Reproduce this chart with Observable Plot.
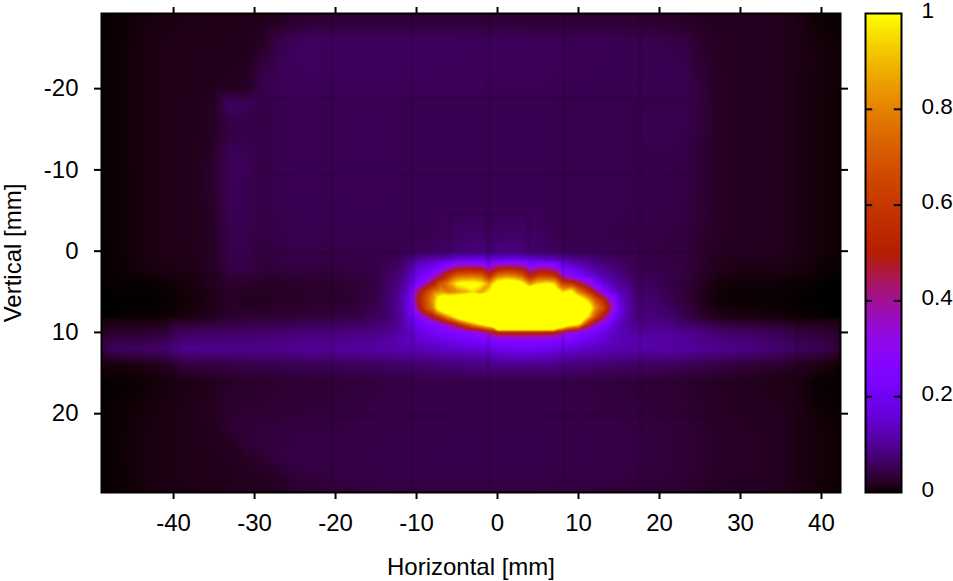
<!DOCTYPE html>
<html><head><meta charset="utf-8">
<script src="https://cdn.jsdelivr.net/npm/d3@7"></script>
<script src="https://cdn.jsdelivr.net/npm/@observablehq/plot@0.6"></script>
<style>
html,body{margin:0;padding:0;background:#fff}
#wrap{position:relative;width:953px;height:581px;overflow:hidden}
#wrap>svg{position:absolute;left:0;top:0;background:transparent}
</style></head><body><div id="wrap"></div>
<script>
// Intensity, in thousandths of full scale.
const colX = [-49,-47,-45,-43,-41,-39,-37,-35,-33,-31,-29,-27,-25,-23,-21,-19,-17,-15,-13,-11,-9,-7,-5,-3,-1,1,3,5,7,9,11,13,15,17,19,21,23,25,27,29,31,33,35,37,39,41,43];
const topY = [-30,-28,-26,-24,-22,-20,-18,-16,-14,-12,-10,-8,-6,-4,-2];
const topRows = [
[1,2,4,8,10,12,13,13,14,15,15,18,22,26,28,28,28,28,28,28,28,28,28,28,28,28,28,28,28,28,28,28,28,27,26,24,20,18,17,17,17,17,16,13,6,3,3],
[1,2,5,10,12,14,15,15,16,17,18,22,30,36,38,38,38,38,38,38,38,38,38,38,38,37,37,37,37,36,36,36,35,34,32,30,28,22,20,20,20,20,18,14,5,2,2],
[1,2,6,12,14,15,16,16,17,18,22,45,58,62,58,60,60,60,60,60,60,60,58,58,58,58,58,56,56,54,54,54,52,50,50,46,42,28,21,21,20,20,19,15,8,4,4],
[1,3,7,12,15,16,16,17,17,18,32,52,60,62,58,60,60,60,60,60,60,60,58,58,58,58,58,56,56,54,54,54,52,50,52,50,46,30,22,21,20,20,19,15,9,5,5],
[1,3,7,12,15,16,17,17,17,20,45,55,58,60,56,60,60,60,60,58,58,58,58,58,56,56,56,56,54,54,54,52,52,52,52,52,50,34,23,21,20,20,19,14,9,5,5],
[1,3,7,12,15,16,17,18,20,22,48,54,56,56,54,56,56,56,56,55,55,55,55,55,54,54,54,54,52,52,52,50,50,50,50,50,50,38,24,21,20,20,19,14,8,4,4],
[1,3,7,12,15,16,18,22,62,58,44,50,54,54,52,54,54,54,54,52,52,52,52,52,52,52,52,52,50,50,50,50,50,48,48,48,48,38,25,21,20,20,19,14,8,4,4],
[1,3,7,12,15,16,18,22,46,46,44,50,54,54,52,54,54,54,54,52,52,52,52,52,52,52,52,52,50,50,50,50,50,48,50,50,50,38,25,21,20,20,19,14,8,4,4],
[1,3,7,12,15,16,18,24,44,46,44,50,54,54,52,54,54,54,54,52,52,52,52,52,52,52,52,52,50,50,50,50,50,48,50,50,46,36,25,21,20,20,19,14,8,4,4],
[1,3,7,12,15,16,18,28,56,54,44,50,54,54,52,54,54,54,54,52,52,52,52,52,52,52,52,52,50,50,50,50,50,48,48,48,46,36,25,21,20,20,19,14,8,4,4],
[1,3,6,12,15,16,18,30,56,54,44,50,54,54,52,54,54,54,54,52,52,52,52,52,52,52,52,52,50,50,50,50,50,48,48,46,44,34,25,21,20,20,19,14,8,4,4],
[1,3,6,12,15,16,18,30,54,52,44,50,54,54,52,54,54,54,54,52,52,52,52,52,52,52,52,52,50,50,50,50,50,48,48,46,44,34,25,21,20,20,19,14,8,4,4],
[1,3,6,12,15,16,18,28,54,52,44,50,52,52,50,52,52,52,52,52,52,52,52,52,52,52,52,52,50,50,50,50,50,48,48,46,42,32,25,21,20,20,19,14,8,4,4],
[1,3,6,12,15,16,18,26,52,52,42,48,52,52,50,52,52,52,52,52,52,54,58,58,54,58,58,56,50,50,50,50,48,46,46,44,42,32,24,21,20,20,19,14,8,4,4],
[1,2,6,12,15,16,18,26,50,50,40,46,50,50,48,50,50,50,50,50,50,54,62,66,60,66,66,62,50,48,48,48,46,44,44,42,40,30,23,21,20,20,19,14,8,4,4]
];
const midY = [0,2,4,6,8,10,12];
const midLeftRows = [
[1,2,6,12,15,16,18,24,48,48,38,44,48,48,46,48,48,48],
[1,2,5,10,12,14,16,24,46,46,36,38,42,42,40,42,44,46],
[0,1,1,1,2,6,10,20,28,26,24,24,26,28,28,30,34,42],
[0,0,0,0,1,3,8,16,24,18,20,22,24,26,26,28,36,46],
[0,0,1,1,3,6,12,20,28,30,30,32,34,36,38,42,46,60],
[20,28,30,32,34,60,62,64,66,66,68,72,75,78,78,80,82,90],
[45,60,62,65,70,92,92,92,92,92,92,95,98,100,100,105,108,112]
];
const midRightRows = [
[45,42,40,30,22,20,20,19,18,14,8,4,4],
[46,44,40,28,18,14,12,12,12,10,5,2,2],
[60,46,36,22,8,5,4,4,3,2,1,0,0],
[70,52,36,18,4,2,1,1,1,0,0,0,0],
[82,70,50,30,16,10,8,6,5,2,1,0,0],
[105,105,95,85,72,66,62,56,50,42,38,32,18],
[115,112,108,100,95,90,85,78,70,60,55,45,25]
];
const lowY = [14,16,18,20,22,24,26,28,30];
const lowRows = [
[6,8,10,15,20,38,40,42,44,46,48,50,52,54,54,56,58,60,64,68,72,76,80,84,88,92,92,90,86,80,76,72,68,64,60,58,54,50,44,40,36,32,28,20,14,8,4],
[0,1,2,4,8,12,14,20,24,26,28,30,32,34,34,36,38,40,42,44,46,46,46,46,46,46,46,46,46,44,42,40,38,36,34,32,30,26,22,20,18,16,14,12,3,1,1],
[0,1,2,6,10,13,15,20,28,30,30,32,34,36,36,38,40,42,44,46,46,46,48,48,48,48,48,48,46,46,44,42,40,38,36,34,30,26,24,22,20,18,16,12,3,1,1],
[0,2,4,8,12,14,16,22,30,32,32,34,36,38,38,40,42,44,44,46,46,46,48,48,48,48,48,48,46,46,44,42,42,40,38,36,32,28,24,22,22,20,18,14,6,2,2],
[1,2,5,10,12,14,16,20,30,36,38,40,42,42,42,42,44,44,46,46,46,48,48,48,48,48,48,48,46,46,46,44,44,42,40,38,34,30,26,24,22,22,20,14,8,4,4],
[1,2,6,10,12,14,16,18,20,32,38,42,42,44,44,44,44,46,46,46,48,48,48,48,48,48,48,48,46,46,46,44,44,42,40,38,34,30,26,24,24,22,20,14,8,4,4],
[1,2,6,10,12,14,15,16,18,22,26,38,44,44,44,44,46,46,46,48,48,48,48,48,48,48,48,48,46,46,46,44,44,42,40,38,34,30,26,24,24,22,20,14,8,4,4],
[1,2,5,10,12,14,15,16,18,20,20,24,34,38,40,42,44,44,46,46,46,46,46,46,46,46,46,46,44,44,44,42,42,40,38,36,32,28,24,22,22,22,20,14,8,4,4],
[1,2,4,8,11,12,13,14,16,18,18,20,26,30,32,34,36,36,38,38,38,38,38,38,38,38,38,38,36,36,36,34,34,32,32,30,28,24,22,20,20,20,18,13,6,3,3]
];
// Finer reading of the hot spot, 1 mm apart (values above 1000 saturate to yellow).
const blobX = [-14,-13,-12,-11,-10,-9,-8,-7,-6,-5,-4,-3,-2,-1,0,1,2,3,4,5,6,7,8,9,10,11,12,13,14,15,16,17,18];
const blobY = [0,1,2,3,4,5,6,7,8,9,10,11,12,13];
const blobRows = [
[48,48,50,52,58,60,62,64,66,72,76,78,78,70,78,82,82,78,70,66,64,62,58,56,56,54,54,54,52,50,48,48,46],
[50,52,58,72,100,110,118,125,135,150,158,160,160,145,158,165,165,155,145,138,130,122,108,98,90,82,74,68,62,58,54,50,48],
[52,60,70,95,150,170,200,240,330,420,440,440,420,330,450,470,470,430,330,370,370,330,220,175,150,125,105,92,80,70,60,52,48],
[55,65,80,115,175,220,300,420,600,720,740,750,720,540,760,800,780,700,490,620,620,580,360,280,220,175,140,115,100,85,70,60,52],
[58,70,90,130,220,340,500,700,820,1000,1050,1050,1000,850,1100,1150,1150,1050,820,950,1000,950,640,600,480,380,240,160,125,105,85,64,58],
[60,75,100,150,400,600,760,850,780,820,870,950,850,1000,1300,1400,1400,1400,1300,1300,1300,1200,950,1050,800,640,460,280,170,125,105,72,64],
[62,78,110,160,450,650,840,1100,1200,1250,1300,1300,1300,1300,1300,1400,1400,1400,1400,1400,1300,1300,1200,1300,1150,960,720,560,340,170,115,78,68],
[62,78,110,165,380,620,800,1150,1300,1300,1400,1400,1400,1400,1400,1400,1400,1400,1400,1400,1400,1400,1300,1300,1300,1200,850,660,430,190,120,82,72],
[65,78,105,160,240,380,500,700,900,1150,1300,1400,1400,1400,1400,1400,1400,1400,1400,1400,1400,1400,1300,1250,1250,1050,720,500,300,165,115,85,78],
[75,85,105,150,190,230,270,320,400,520,700,860,1000,1150,2000,2000,2000,2000,2000,2000,2000,2000,1400,1100,1000,620,400,290,190,135,110,92,85],
[95,100,112,135,165,190,210,230,245,260,280,300,330,410,520,530,530,530,530,530,520,510,410,320,270,240,210,180,150,128,118,108,104],
[110,115,125,135,145,155,165,175,185,195,205,215,225,235,255,260,265,265,265,260,258,255,245,235,215,190,170,155,140,128,122,118,115],
[112,115,118,120,125,130,135,140,145,150,155,160,165,170,190,195,200,200,200,195,190,185,170,160,150,140,135,128,122,118,116,115,115],
[90,90,92,92,95,98,100,102,105,108,110,112,115,118,128,132,135,135,135,132,128,125,118,112,108,105,100,98,95,92,90,88,85]
];
// Faint detector seams seen in the picture: [position, from, to]
const seamsV = [[-20.5,-29,29],[-10.5,-29,29],[-1.1,-29,2.2],[-1.1,10.3,29],[8.1,-29,3.4],[8.1,10.2,29],[17.6,-29,29],[37,-29,29],[-5.8,-4.5,0],[3.8,-4.5,0]];
const seamsH = [[-18.8,-30,24],[-9.6,-30,24],[0.2,-30,27],[20.3,-20,27],[-4.5,-5.8,3.8]];
const xTicks = [-40,-30,-20,-10,0,10,20,30,40];
const yTicks = [-20,-10,0,10,20];
const barTicks = [0.2,0.4,0.6,0.8];
const barLabels = [0,0.2,0.4,0.6,0.8,1];
const xLabel = "Horizontal [mm]", yLabel = "Vertical [mm]";

const pts = [];
topRows.forEach((r,j)=>r.forEach((v,i)=>pts.push({x:colX[i],y:topY[j],v:v/1000})));
midLeftRows.forEach((r,j)=>r.forEach((v,i)=>pts.push({x:colX[i],y:midY[j],v:v/1000})));
midRightRows.forEach((r,j)=>r.forEach((v,i)=>pts.push({x:colX[34+i],y:midY[j],v:v/1000})));
lowRows.forEach((r,j)=>r.forEach((v,i)=>pts.push({x:colX[i],y:lowY[j],v:v/1000})));
blobRows.forEach((r,j)=>r.forEach((v,i)=>pts.push({x:blobX[i],y:blobY[j],v:v/1000})));

// gnuplot's default pm3d palette (rgbformulae 7,5,15)
const palette = t => {
  t = Math.max(0,Math.min(1,t));
  const b = Math.max(0,Math.sin(2*Math.PI*t));
  return `rgb(${Math.round(255*Math.sqrt(t))},${Math.round(255*t*t*t)},${Math.round(255*b)})`;
};
const color = {type:"linear",domain:[0,1],interpolate:palette,clamp:true};
const font = {fontFamily:"'Liberation Sans',Arial,sans-serif",fontSize:"24px",color:"#000",background:"transparent"};
const blank = () => "";

const main = Plot.plot({
  width:953,height:581,marginLeft:101,marginRight:113,marginTop:13,marginBottom:89,
  style:font,
  x:{domain:[-48.9,42.35],label:null},
  y:{domain:[29.7,-29.25],label:null},
  color,
  marks:[
    Plot.raster(pts,{x:"x",y:"y",fill:"v",interpolate:"barycentric",pixelSize:1}),
    Plot.ruleX(seamsV,{x:d=>d[0],y1:d=>d[1],y2:d=>d[2],stroke:"#000",strokeOpacity:0.09,strokeWidth:4}),
    Plot.ruleY(seamsH,{y:d=>d[0],x1:d=>d[1],x2:d=>d[2],stroke:"#000",strokeOpacity:0.09,strokeWidth:4}),
    Plot.axisX({anchor:"bottom",ticks:xTicks,tickSize:7,tickPadding:14,strokeWidth:2,fontSize:24,tickFormat:d=>String(d),label:xLabel,labelAnchor:"center",labelArrow:"none",labelOffset:82}),
    Plot.axisX({anchor:"top",ticks:xTicks,tickSize:7,strokeWidth:2,tickFormat:blank,label:null}),
    Plot.axisY({anchor:"left",ticks:yTicks,tickSize:7,tickPadding:16,strokeWidth:2,fontSize:24,tickFormat:d=>String(d),label:yLabel,labelAnchor:"center",labelArrow:"none",labelOffset:98}),
    Plot.axisY({anchor:"right",ticks:yTicks,tickSize:7,strokeWidth:2,tickFormat:blank,label:null}),
    Plot.frame({stroke:"#000",strokeWidth:2})
  ]
});
const bar = Plot.plot({
  width:953,height:581,marginLeft:865,marginRight:52,marginTop:13,marginBottom:89,
  style:font,
  x:{domain:[0,1],axis:null},
  y:{domain:[0,1],axis:null},
  color,
  marks:[
    Plot.raster({fill:(x,y)=>y,x1:0,x2:1,y1:0,y2:1,width:4,height:479}),
    Plot.ruleY(barTicks,{x1:0,x2:0.2,stroke:"#000",strokeWidth:2}),
    Plot.ruleY(barTicks,{x1:0.8,x2:1,stroke:"#000",strokeWidth:2}),
    Plot.frame({stroke:"#000",strokeWidth:2}),
    Plot.text(barLabels,{x:()=>1,y:d=>d,text:d=>String(d),dx:20,dy:-3,textAnchor:"start",fontSize:22.5,fill:"#000"})
  ]
});
document.getElementById("wrap").append(main,bar);
</script></body></html>
